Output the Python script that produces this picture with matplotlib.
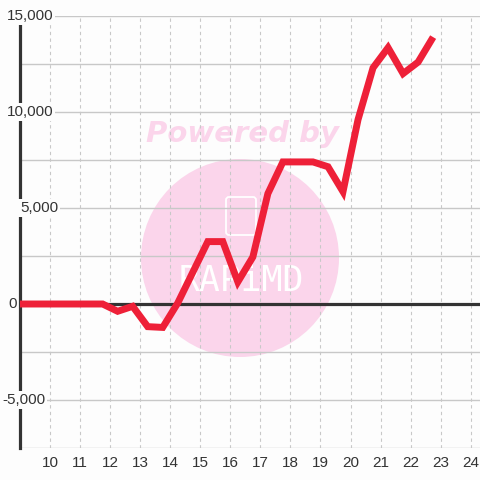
import matplotlib
matplotlib.use("Agg")
import matplotlib.pyplot as plt
from matplotlib.patches import Circle, FancyBboxPatch

# ---- data ----
x_vals = [8.75, 9.25, 9.75, 10.25, 10.75, 11.25, 11.75, 12.25, 12.75, 13.25, 13.75,
          14.25, 14.75, 15.25, 15.75, 16.25, 16.75, 17.25, 17.75, 18.25, 18.75,
          19.25, 19.75, 20.25, 20.75, 21.25, 21.75, 22.25, 22.75]
y_vals = [0, 0, 0, 0, 0, 0, 0, -380, -120, -1180, -1220,
          50, 1650, 3250, 3250, 1150, 2450, 5750, 7400, 7400, 7400,
          7150, 5850, 9600, 12300, 13350, 12000, 12600, 13900]
x_ticks = [10, 11, 12, 13, 14, 15, 16, 17, 18, 19, 20, 21, 22, 23, 24]
y_ticks = [-5000, 0, 5000, 10000, 15000]
y_tick_labels = ["-5,000", "0", "5,000", "10,000", "15,000"]
watermark_text = "Powered by"
logo_text = "RAPiMD"

BG = "#fdfdfd"
RED = "#ee2038"
DARK = "#333333"
PINK = "#fbd5eb"

fig = plt.figure(figsize=(4.8, 4.8), dpi=100, facecolor=BG)
ax = fig.add_axes([20 / 480, 32 / 480, 460 / 480, 432 / 480])
ax.set_facecolor(BG)
ax.set_xlim(9.0, 24.31)
ax.set_ylim(-7500, 15000)

for s in ["top", "right", "bottom"]:
    ax.spines[s].set_visible(False)
ax.spines["left"].set_color(DARK)
ax.spines["left"].set_linewidth(2.3)
ax.spines["left"].set_zorder(3)

# watermark (display pixel coords, origin bottom-left)
circ = Circle((240, 480 - 258), 99, transform=None, facecolor=PINK,
              edgecolor="none", zorder=1)
ax.add_patch(circ)
ax.text((242 - 20) / 460, 1 - (134 - 16) / 432, watermark_text,
        transform=ax.transAxes, ha="center", va="center",
        fontsize=21, fontweight="bold", fontstyle="italic", color=PINK,
        family="DejaVu Sans", zorder=1.5)
icon = FancyBboxPatch((226, 480 - 235), 30, 38, boxstyle="round,pad=0,rounding_size=3",
                      transform=None, facecolor="none", edgecolor="white", lw=1.3, zorder=1.5)
ax.add_patch(icon)
ax.text((241 - 20) / 460, 1 - (281 - 16) / 432, logo_text, transform=ax.transAxes,
        ha="center", va="center", fontsize=25, color="white",
        family="DejaVu Sans Mono", zorder=1.5)

# grid
for yv in range(-7500, 15001, 2500):
    ax.axhline(yv, color="#c8c8c8", lw=1.0, zorder=2)
for xv in x_ticks:
    ax.axvline(xv, color="#c8c8c8", lw=0.8, ls=(0, (3, 3)), zorder=2)

ax.axhline(0, color=DARK, lw=2.3, zorder=4)

# data line
ax.plot(x_vals, y_vals, color=RED, lw=5.0, solid_joinstyle="miter",
        solid_capstyle="butt", zorder=5)

# ticks
ax.set_xticks(x_ticks)
ax.set_xticklabels([str(t) for t in x_ticks])
ax.tick_params(axis="x", length=0, pad=6, labelsize=11, labelcolor=DARK)
for lbl in ax.get_xticklabels():
    lbl.set_family("Liberation Sans")
ax.set_yticks([])

lab_left = {"-5,000": 2, "0": 8, "5,000": 20, "10,000": 7, "15,000": 7}
for val, lab in zip(y_ticks, y_tick_labels):
    ax.annotate(lab, xy=(0, val), xycoords=("figure pixels", "data"),
                xytext=(lab_left[lab], 0), textcoords="offset pixels",
                ha="left", va="center", fontsize=11, color=DARK,
                family="Liberation Sans", zorder=6,
                bbox=dict(boxstyle="square,pad=0.1", fc=BG, ec="none"))

fig.savefig("out.png", dpi=100, facecolor=BG)
